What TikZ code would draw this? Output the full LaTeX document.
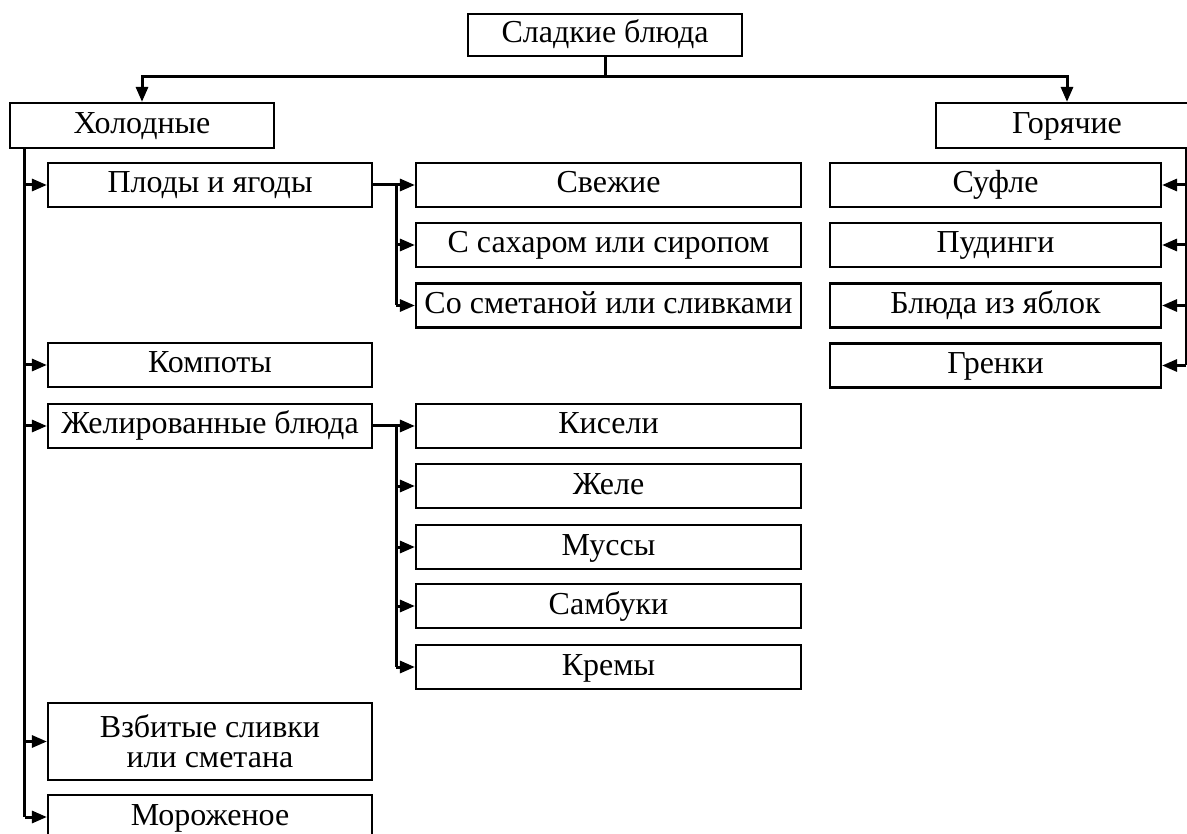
\documentclass[tikz,border=0pt]{standalone}
\usepackage{fontspec}
\setmainfont{Liberation Serif}
\usetikzlibrary{arrows.meta}
\begin{document}
\begin{tikzpicture}[x=1pt,y=-1pt,
  box/.style={draw, line width=2.2pt, inner sep=0pt, align=center,
    font=\fontsize{32}{30}\selectfont, text height=22pt, text depth=6pt},
  lcol/.style={box, minimum width=324pt, minimum height=44pt},
  mcol/.style={box, minimum width=385pt, minimum height=44pt},
  rcol/.style={box, minimum width=331pt, minimum height=44pt},
  conn/.style={line width=3pt},
  arr/.style={conn, -{Triangle[length=15pt,width=12pt]}}]
\useasboundingbox (0,0) rectangle (1187,834);
\begin{scope}
\clip (0,0) rectangle (1187,834);
% top
\node[box, minimum width=274pt, minimum height=42pt] (top) at (605,35) {Сладкие блюда};
\node[box, minimum width=264pt, minimum height=45pt] (hol) at (142,125.5) {Холодные};
\node[box, minimum width=262pt, minimum height=45pt] (gor) at (1067,125.5) {Горячие};
% left column
\node[lcol] (plody) at (210,185) {Плоды и ягоды};
\node[lcol] (komp) at (210,365) {Компоты};
\node[lcol] (zhel) at (210,426) {Желированные блюда};
\node[lcol, minimum height=77pt, text height=, text depth=] (vzb) at (210,741.5) {Взбитые сливки\\ или сметана};
\node[lcol] (mor) at (210,817) {Мороженое};
% middle column
\node[mcol] (svezh) at (608.5,185) {Свежие};
\node[mcol] (sahar) at (608.5,245) {С сахаром или сиропом};
\node[mcol] (smet) at (608.5,305.5) {Со сметаной или сливками};
\node[mcol] (kis) at (608.5,426) {Кисели};
\node[mcol] (zhele) at (608.5,486) {Желе};
\node[mcol] (muss) at (608.5,547) {Муссы};
\node[mcol] (samb) at (608.5,606) {Самбуки};
\node[mcol] (krem) at (608.5,667) {Кремы};
% right column
\node[rcol] (sufle) at (995.5,185) {Суфле};
\node[rcol] (pud) at (995.5,245) {Пудинги};
\node[rcol] (yabl) at (995.5,305.5) {Блюда из яблок};
\node[rcol] (grenki) at (995.5,365.5) {Гренки};
% top connectors
\coordinate (tj) at ([yshift=-19pt]top.south);
\draw[conn] (top.south) -- (tj);
\draw[arr] (tj) -| (hol.north);
\draw[arr] (tj) -| (gor.north);
% left trunk
\coordinate (lt) at ([xshift=16pt]hol.south west);
\draw[conn] (lt) -- (lt |- mor.west);
\foreach \n in {plody,komp,zhel,vzb,mor}
  \draw[arr] (lt |- \n.west) -- (\n.west);
% plody branch
\coordinate (pb) at ([xshift=23pt]plody.east);
\draw[conn] (plody.east) -- (pb) -- (pb |- smet.west);
\foreach \n in {svezh,sahar,smet}
  \draw[arr] (pb |- \n.west) -- (\n.west);
% zhel branch
\coordinate (zb) at ([xshift=23pt]zhel.east);
\draw[conn] (zhel.east) -- (zb) -- (zb |- krem.west);
\foreach \n in {kis,zhele,muss,samb,krem}
  \draw[arr] (zb |- \n.west) -- (\n.west);
% right trunk
\coordinate (rt) at (1186,148);
\draw[conn] (rt) -- (rt |- grenki.east);
\foreach \n in {sufle,pud,yabl,grenki}
  \draw[arr] (rt |- \n.east) -- (\n.east);
\end{scope}
\end{tikzpicture}
\end{document}
